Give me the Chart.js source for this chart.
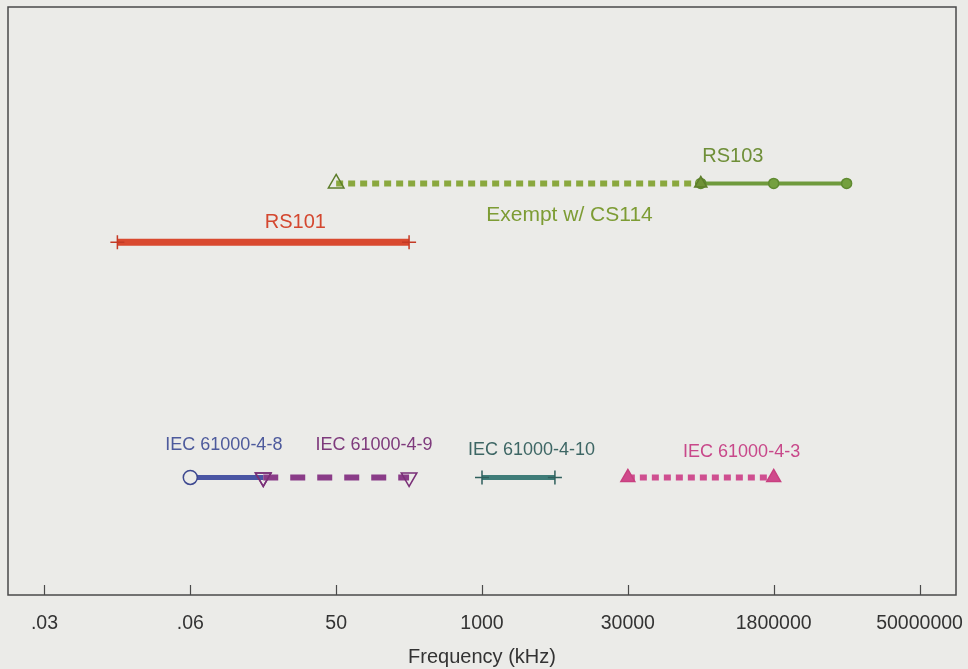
<!DOCTYPE html>
<html>
<head>
<meta charset="utf-8">
<script src="https://cdn.jsdelivr.net/npm/chart.js@4.4.1/dist/chart.umd.min.js"></script>
<style>
  html, body { margin: 0; padding: 0; background: #ebebe8; }
  #wrap { width: 968px; height: 669px; }
</style>
</head>
<body>
<div id="wrap"><canvas id="c"></canvas></div>
<script>
// x axis: evenly spaced category ticks
const tickLabels = ['.03', '.06', '50', '1000', '30000', '1800000', '50000000'];
const tickPos = [0, 1, 2, 3, 4, 5, 6];

// each band: start/end positions on the tick index axis, and its row height
const rs101X = [0.5, 2.5];
const rs101Y = [0.6, 0.6];
const exemptX = [2.0, 4.5];
const exemptY = [0.7, 0.7];
const rs103X = [4.5, 5.0, 5.5];
const rs103Y = [0.7, 0.7, 0.7];
const iec48X = [1.0, 1.5];
const iec49X = [1.5, 2.5];
const iec410X = [3.0, 3.5];
const iec43X = [4.0, 5.0];
const iecY = [0.2, 0.2];

// text labels next to the bands
const labelText = ['RS101', 'Exempt w/ CS114', 'RS103', 'IEC 61000-4-8', 'IEC 61000-4-9', 'IEC 61000-4-10', 'IEC 61000-4-3'];
const labelX = [1.72, 3.6, 4.72, 1.23, 2.26, 3.34, 4.78];
const labelY = [0.634, 0.646, 0.745, 0.255, 0.255, 0.247, 0.243];
const labelColor = ['#d4472f', '#7d9c34', '#6f8f38', '#4d5a9c', '#7e3a7c', '#3d6664', '#c8488a'];
const labelSize = [20, 21, 20, 18, 18, 18, 18];

const pts = (xs, ys) => xs.map((x, i) => ({ x: x, y: ys[i] }));

const boxPlugin = {
  id: 'box',
  afterDatasetsDraw(chart) {
    const { ctx, chartArea: a, scales } = chart;
    ctx.save();
    ctx.strokeStyle = '#4a4a4a';
    ctx.lineWidth = 1.5;
    ctx.strokeRect(a.left, a.top, a.right - a.left, a.bottom - a.top);
    ctx.lineWidth = 1.2;
    tickPos.forEach(v => {
      const px = Math.round(scales.x.getPixelForValue(v)) + 0.5;
      ctx.beginPath();
      ctx.moveTo(px, a.bottom);
      ctx.lineTo(px, a.bottom - 10);
      ctx.stroke();
    });
    ctx.textAlign = 'center';
    ctx.textBaseline = 'middle';
    labelText.forEach((t, i) => {
      ctx.fillStyle = labelColor[i];
      ctx.font = labelSize[i] + 'px "Liberation Sans", Arial, sans-serif';
      ctx.fillText(t, scales.x.getPixelForValue(labelX[i]), scales.y.getPixelForValue(labelY[i]));
    });
    ctx.restore();
  }
};

const base = {
  fill: false,
  borderCapStyle: 'butt',
  pointBorderWidth: 1.5,
  pointRadius: 6
};

new Chart(document.getElementById('c'), {
  type: 'line',
  data: {
    datasets: [
      Object.assign({}, base, {
        label: 'RS101', data: pts(rs101X, rs101Y),
        borderColor: '#d9492f', borderWidth: 7,
        pointStyle: 'cross', pointRadius: 7, pointBorderColor: '#c43a25', pointBorderWidth: 1.5
      }),
      Object.assign({}, base, {
        label: 'Exempt w/ CS114', data: pts(exemptX, exemptY),
        borderColor: '#8aa83e', borderWidth: 6, borderDash: [7, 5],
        pointStyle: 'triangle', pointRadius: [9, 7],
        pointBorderColor: '#5d7d2a', pointBackgroundColor: ['rgba(0,0,0,0)', '#6f9236']
      }),
      Object.assign({}, base, {
        label: 'RS103', data: pts(rs103X, rs103Y),
        borderColor: '#6f9a3c', borderWidth: 4,
        pointStyle: 'circle', pointRadius: 5,
        pointBorderColor: '#5f8a30', pointBackgroundColor: '#74a03f'
      }),
      Object.assign({}, base, {
        label: 'IEC 61000-4-9', data: pts(iec49X, iecY),
        borderColor: '#8a3c88', borderWidth: 6, borderDash: [15, 12],
        pointStyle: 'triangle', pointRotation: 180, pointRadius: 9,
        pointBorderColor: '#7a3078', pointBackgroundColor: 'rgba(0,0,0,0)'
      }),
      Object.assign({}, base, {
        label: 'IEC 61000-4-8', data: pts(iec48X, iecY),
        borderColor: '#4a55a3', borderWidth: 5,
        pointStyle: ['circle', 'triangle'], pointRotation: [0, 180], pointRadius: [7, 9],
        pointBorderColor: ['#3d4890', '#7a3078'], pointBackgroundColor: ['#ebebe8', 'rgba(0,0,0,0)']
      }),
      Object.assign({}, base, {
        label: 'IEC 61000-4-10', data: pts(iec410X, iecY),
        borderColor: '#3f7c78', borderWidth: 5,
        pointStyle: 'cross', pointRadius: 7, pointBorderColor: '#2f5f5c'
      }),
      Object.assign({}, base, {
        label: 'IEC 61000-4-3', data: pts(iec43X, iecY),
        borderColor: '#cf4f90', borderWidth: 6, borderDash: [7, 5],
        pointStyle: 'triangle', pointRadius: 8,
        pointBorderColor: '#c8407f', pointBackgroundColor: '#d04a8c'
      })
    ]
  },
  options: {
    responsive: true,
    maintainAspectRatio: false,
    animation: false,
    layout: { autoPadding: false, padding: { left: 8, right: 12, top: 7, bottom: 0 } },
    plugins: { legend: { display: false }, tooltip: { enabled: false } },
    scales: {
      x: {
        type: 'linear', min: -0.25, max: 6.25,
        afterBuildTicks: s => { s.ticks = tickPos.map(v => ({ value: v })); },
        afterFit: s => { s.height = 74; s.paddingLeft = 0; s.paddingRight = 0; },
        grid: { display: false, drawTicks: false },
        border: { display: false },
        ticks: {
          padding: 17, color: '#333', maxRotation: 0, autoSkip: false,
          font: { family: '"Liberation Sans", Arial, sans-serif', size: 19.5 },
          callback: (v) => tickLabels[tickPos.indexOf(v)]
        },
        title: {
          display: true, text: 'Frequency (kHz)', color: '#333',
          padding: { top: 0, bottom: 0 },
          font: { family: '"Liberation Sans", Arial, sans-serif', size: 20 }
        }
      },
      y: { display: false, min: 0, max: 1 }
    }
  },
  plugins: [boxPlugin]
});
</script>
</body>
</html>
